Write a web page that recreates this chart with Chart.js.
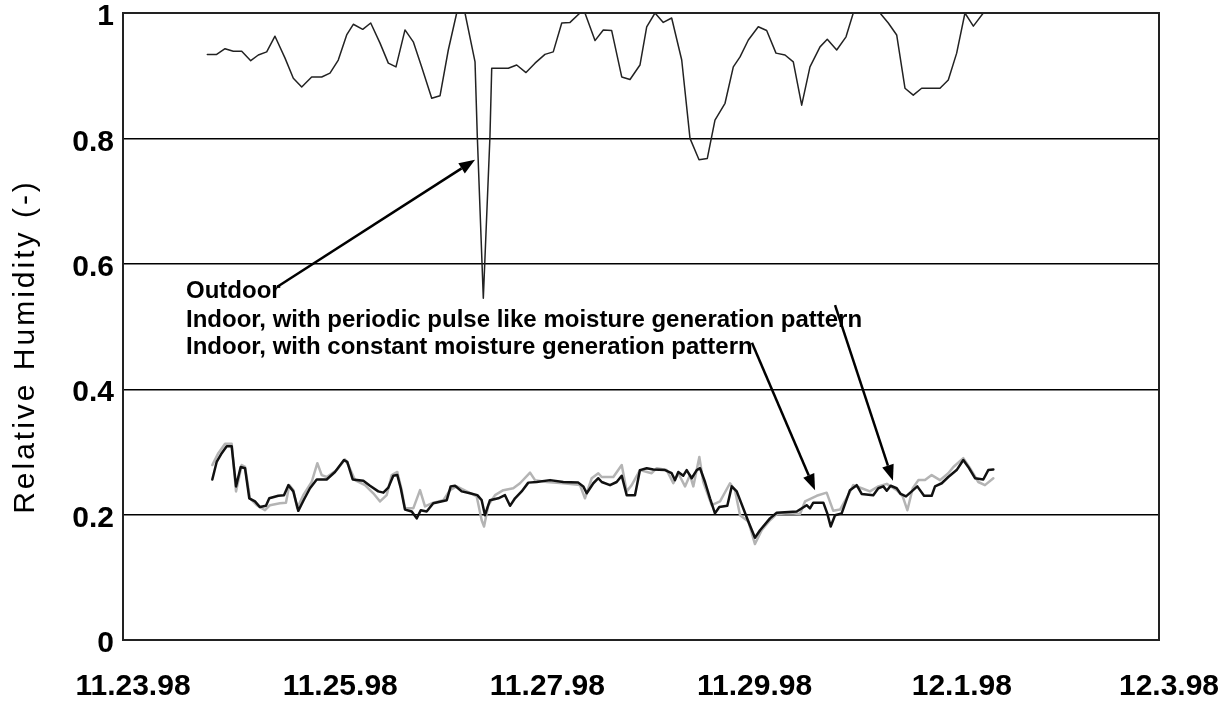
<!DOCTYPE html>
<html>
<head>
<meta charset="utf-8">
<title>Relative Humidity</title>
<script src="https://cdn.jsdelivr.net/npm/chart.js@4.4.1/dist/chart.umd.min.js"></script>
<style>
  html, body { margin: 0; padding: 0; background: #fff; }
  #wrap { width: 1229px; height: 704px; position: relative; }
</style>
</head>
<body>
<div id="wrap"><canvas id="rh" width="1229" height="704"></canvas></div>
<script>
// Date axis: days counted from 11.23.98 00:00
const dateLabels = ['11.23.98', '11.25.98', '11.27.98', '11.29.98', '12.1.98', '12.3.98'];

// Outdoor relative humidity
const outdoorDays = [0.814,0.904,0.985,1.065,1.146,1.233,1.306,1.387,1.467,1.564,1.644,1.725,1.821,1.918,1.998,2.078,2.159,2.223,2.314,2.391,2.481,2.561,2.635,2.722,2.802,2.883,2.980,3.060,3.140,3.221,3.301,3.398,3.420,3.478,3.542,3.559,3.719,3.800,3.890,3.977,4.073,4.153,4.235,4.315,4.411,4.459,4.556,4.636,4.717,4.814,4.894,4.990,5.055,5.135,5.215,5.296,5.393,5.473,5.560,5.640,5.714,5.811,5.891,5.956,6.036,6.132,6.213,6.303,6.390,6.470,6.551,6.631,6.728,6.798,6.889,6.979,7.049,7.307,7.387,7.468,7.548,7.628,7.709,7.886,7.966,8.047,8.127,8.208,8.304,8.433];
const outdoorRH = [0.934,0.934,0.943,0.939,0.939,0.924,0.933,0.938,0.963,0.928,0.896,0.882,0.898,0.898,0.904,0.925,0.965,0.982,0.974,0.984,0.952,0.920,0.914,0.973,0.954,0.914,0.864,0.868,0.941,1.0,1.0,0.922,0.803,0.545,0.803,0.912,0.912,0.917,0.905,0.920,0.934,0.938,0.984,0.985,1.0,1.0,0.956,0.973,0.972,0.898,0.894,0.917,0.978,1.0,0.985,0.992,0.925,0.800,0.766,0.768,0.829,0.856,0.914,0.930,0.957,0.978,0.972,0.936,0.933,0.922,0.853,0.914,0.946,0.958,0.941,0.962,1.0,1.0,0.984,0.965,0.880,0.869,0.880,0.880,0.893,0.936,1.0,0.979,1.0,1.0];

// Indoor, periodic pulse-like moisture generation
const pulseDays = [0.862,0.904,0.953,1.001,1.049,1.091,1.136,1.178,1.219,1.274,1.322,1.380,1.412,1.499,1.554,1.596,1.644,1.692,1.747,1.805,1.870,1.966,2.046,2.133,2.165,2.217,2.320,2.384,2.464,2.513,2.561,2.609,2.648,2.681,2.722,2.787,2.835,2.874,2.931,2.995,3.125,3.163,3.205,3.269,3.349,3.420,3.462,3.494,3.542,3.623,3.687,3.736,3.784,3.848,3.912,3.993,4.122,4.250,4.395,4.443,4.476,4.540,4.588,4.621,4.701,4.765,4.814,4.862,4.942,4.990,5.055,5.119,5.232,5.296,5.328,5.360,5.408,5.441,5.489,5.538,5.570,5.618,5.666,5.714,5.756,5.833,5.876,5.924,6.036,6.100,6.149,6.245,6.310,6.503,6.599,6.631,6.663,6.760,6.798,6.831,6.873,6.937,7.017,7.082,7.130,7.242,7.291,7.339,7.372,7.410,7.468,7.507,7.558,7.613,7.667,7.732,7.806,7.838,7.903,7.966,8.047,8.111,8.159,8.224,8.304,8.352,8.401];
const pulseRH = [0.256,0.284,0.298,0.309,0.309,0.245,0.276,0.274,0.226,0.221,0.212,0.214,0.226,0.230,0.231,0.247,0.237,0.206,0.224,0.242,0.256,0.256,0.268,0.287,0.284,0.256,0.254,0.246,0.237,0.235,0.243,0.262,0.263,0.242,0.208,0.205,0.194,0.207,0.205,0.218,0.223,0.245,0.246,0.237,0.234,0.231,0.223,0.199,0.223,0.226,0.231,0.214,0.226,0.237,0.251,0.252,0.255,0.252,0.251,0.245,0.234,0.250,0.258,0.252,0.247,0.252,0.262,0.231,0.231,0.271,0.274,0.272,0.271,0.266,0.255,0.268,0.262,0.271,0.258,0.271,0.274,0.252,0.226,0.202,0.212,0.214,0.245,0.237,0.189,0.163,0.175,0.194,0.203,0.205,0.215,0.210,0.219,0.219,0.202,0.181,0.199,0.202,0.239,0.247,0.233,0.231,0.242,0.245,0.238,0.246,0.242,0.233,0.229,0.237,0.245,0.230,0.230,0.245,0.250,0.260,0.271,0.287,0.276,0.258,0.256,0.271,0.272];

// Indoor, constant moisture generation
const constDays = [0.862,0.920,0.985,1.049,1.091,1.146,1.178,1.226,1.291,1.371,1.419,1.515,1.573,1.605,1.644,1.682,1.740,1.821,1.876,1.918,1.966,2.063,2.143,2.175,2.239,2.336,2.416,2.481,2.545,2.594,2.648,2.690,2.722,2.802,2.867,2.915,2.980,3.092,3.156,3.221,3.318,3.414,3.462,3.485,3.526,3.591,3.671,3.767,3.832,3.929,3.977,4.090,4.250,4.411,4.459,4.524,4.588,4.621,4.733,4.814,4.862,4.910,4.990,5.103,5.152,5.248,5.312,5.360,5.425,5.473,5.505,5.563,5.601,5.682,5.763,5.859,5.907,5.956,6.036,6.100,6.165,6.245,6.310,6.438,6.535,6.583,6.696,6.792,6.856,6.921,7.001,7.049,7.130,7.210,7.291,7.372,7.468,7.526,7.571,7.623,7.677,7.741,7.806,7.886,7.966,8.015,8.111,8.176,8.256,8.320,8.401];
const constRH = [0.279,0.298,0.313,0.313,0.237,0.279,0.276,0.226,0.215,0.207,0.215,0.218,0.219,0.247,0.239,0.210,0.231,0.252,0.282,0.263,0.260,0.271,0.288,0.279,0.255,0.247,0.234,0.221,0.231,0.263,0.268,0.239,0.210,0.210,0.239,0.213,0.218,0.223,0.239,0.245,0.237,0.229,0.191,0.181,0.215,0.231,0.239,0.242,0.250,0.267,0.255,0.252,0.250,0.247,0.226,0.258,0.266,0.260,0.260,0.279,0.237,0.247,0.271,0.266,0.274,0.271,0.250,0.266,0.245,0.263,0.245,0.292,0.252,0.215,0.221,0.250,0.239,0.199,0.189,0.153,0.175,0.191,0.201,0.202,0.201,0.221,0.230,0.235,0.206,0.208,0.231,0.247,0.242,0.237,0.245,0.249,0.239,0.229,0.207,0.242,0.255,0.255,0.263,0.255,0.266,0.276,0.290,0.274,0.252,0.247,0.258];

// Callout text lines and their arrows, in data units (day, RH)
const noteLines = [
  'Outdoor',
  'Indoor, with periodic pulse like moisture generation pattern',
  'Indoor, with constant moisture generation pattern'
];
const noteX = 0.608;
const noteBaselines = [0.545, 0.499, 0.456];
const arrows = [
  { from: [1.486, 0.563], to: [3.398, 0.766] },
  { from: [6.071, 0.474], to: [6.680, 0.239] },
  { from: [6.873, 0.534], to: [7.432, 0.254] }
];

const FONT = '"Liberation Sans", Arial, Helvetica, sans-serif';

function toXY(days, vals) {
  return days.map((d, i) => ({ x: d, y: vals[i] }));
}

// Frame around the plotting area
const frame = {
  id: 'frame',
  afterDatasetsDraw(chart) {
    const { ctx, chartArea: a } = chart;
    ctx.save();
    ctx.strokeStyle = '#222';
    ctx.lineWidth = 2;
    ctx.strokeRect(a.left, a.top, a.right - a.left, a.bottom - a.top);
    ctx.restore();
  }
};

// Rotated y-axis title with letter spacing
const yTitle = {
  id: 'yTitle',
  afterDraw(chart) {
    const { ctx, chartArea: a } = chart;
    ctx.save();
    ctx.translate(a.left - 97, (a.top + a.bottom) / 2 + 20);
    ctx.rotate(-Math.PI / 2);
    ctx.font = '30px ' + FONT;
    if ('letterSpacing' in ctx) ctx.letterSpacing = '3px';
    ctx.fillStyle = '#000';
    ctx.textAlign = 'center';
    ctx.textBaseline = 'middle';
    ctx.fillText('Relative Humidity (-)', 0, 0);
    ctx.restore();
  }
};

// Callout labels with arrows pointing at the curves
const callouts = {
  id: 'callouts',
  afterDatasetsDraw(chart) {
    const { ctx, scales: { x, y } } = chart;
    ctx.save();
    ctx.fillStyle = '#000';
    ctx.font = 'bold 24px ' + FONT;
    ctx.textAlign = 'left';
    ctx.textBaseline = 'alphabetic';
    noteLines.forEach((t, i) => {
      ctx.fillText(t, x.getPixelForValue(noteX), y.getPixelForValue(noteBaselines[i]));
    });
    ctx.strokeStyle = '#000';
    ctx.lineWidth = 2.5;
    arrows.forEach(a => {
      const x0 = x.getPixelForValue(a.from[0]), y0 = y.getPixelForValue(a.from[1]);
      const x1 = x.getPixelForValue(a.to[0]), y1 = y.getPixelForValue(a.to[1]);
      const ang = Math.atan2(y1 - y0, x1 - x0);
      const len = 16, half = 6;
      const bx = x1 - len * Math.cos(ang), by = y1 - len * Math.sin(ang);
      ctx.beginPath();
      ctx.moveTo(x0, y0);
      ctx.lineTo(bx, by);
      ctx.stroke();
      ctx.beginPath();
      ctx.moveTo(x1, y1);
      ctx.lineTo(bx + half * Math.sin(ang), by - half * Math.cos(ang));
      ctx.lineTo(bx - half * Math.sin(ang), by + half * Math.cos(ang));
      ctx.closePath();
      ctx.fill();
    });
    ctx.restore();
  }
};

new Chart(document.getElementById('rh'), {
  type: 'line',
  data: {
    datasets: [
      {
        label: 'Outdoor',
        data: toXY(outdoorDays, outdoorRH),
        borderColor: '#222',
        borderWidth: 1.5,
        order: 1
      },
      {
        label: 'Indoor, with periodic pulse like moisture generation pattern',
        data: toXY(pulseDays, pulseRH),
        borderColor: '#111',
        borderWidth: 2.5,
        order: 2
      },
      {
        label: 'Indoor, with constant moisture generation pattern',
        data: toXY(constDays, constRH),
        borderColor: '#b4b4b4',
        borderWidth: 2.5,
        order: 3
      }
    ]
  },
  options: {
    responsive: false,
    animation: false,
    events: [],
    parsing: true,
    elements: {
      point: { radius: 0 },
      line: { tension: 0, fill: false, borderJoinStyle: 'round', borderCapStyle: 'round' }
    },
    layout: { padding: { left: 0, top: 13, right: 70, bottom: 0 } },
    plugins: {
      legend: { display: false },
      tooltip: { enabled: false },
      title: { display: false }
    },
    scales: {
      x: {
        type: 'linear',
        min: 0,
        max: 10,
        grid: { display: false, drawTicks: false },
        border: { display: false },
        afterFit(s) { s.height = 64; s.paddingLeft = 0; s.paddingRight = 0; },
        afterBuildTicks(s) { s.ticks = dateLabels.map((_, i) => ({ value: i * 2 })); },
        ticks: {
          autoSkip: false,
          maxRotation: 0,
          padding: 29,
          labelOffset: 10,
          color: '#000',
          font: { family: FONT, size: 30, weight: 'bold' },
          callback: v => dateLabels[Math.round(v / 2)]
        }
      },
      y: {
        min: 0,
        max: 1,
        grid: { color: '#000', lineWidth: 1.4, drawTicks: false },
        border: { display: false },
        afterFit(s) { s.width = 123; s.paddingTop = 0; s.paddingBottom = 0; },
        ticks: {
          stepSize: 0.2,
          padding: 9,
          labelOffset: 4,
          color: '#000',
          font: { family: FONT, size: 30, weight: 'bold' },
          callback: v => (v === 0 ? '0' : v === 1 ? '1' : v.toFixed(1))
        }
      }
    }
  },
  plugins: [frame, callouts, yTitle]
});
</script>
</body>
</html>
